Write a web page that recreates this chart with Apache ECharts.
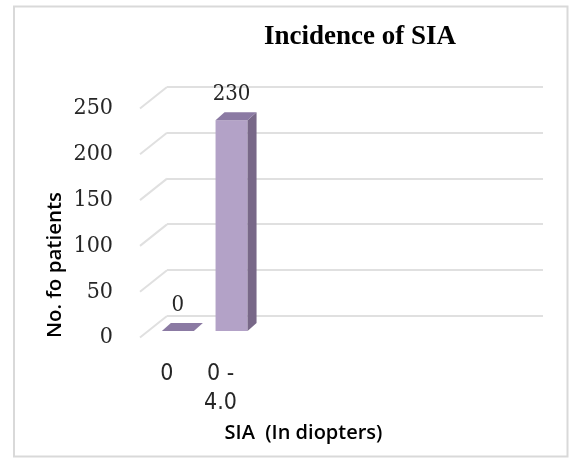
<!DOCTYPE html>
<html>
<head>
<meta charset="utf-8">
<script src="https://cdn.jsdelivr.net/npm/echarts@6/dist/echarts.min.js"></script>
<style>
  html, body { margin: 0; padding: 0; background: #ffffff; }
  #chart { width: 570px; height: 459px; }
</style>
</head>
<body>
<div id="chart"></div>
<script>
// Data
const categories = ['0', '0 -\n4.0'];
const patientCounts = [0, 230];
const yTicks = [0, 50, 100, 150, 200, 250];

const chartTitle = 'Incidence of SIA';
const xTitle = 'SIA  (In diopters)';
const yTitle = 'No. fo patients';

// Pseudo-3D geometry (pixel offsets of the depth direction)
const WALL_DEPTH = [27, -21.5];   // front floor edge -> back wall
const BAR_OFFSET = [11, -6.5];    // bar front plane inside the floor
const BAR_WIDTH = 32;
const BAR_DEPTH = [9, -8];

const FRONT_COLOR = '#b3a2c7';
const SIDE_COLOR = '#786888';
const TOP_COLOR = '#8b7aa3';
const GRID_COLOR = '#e0e0e0';

const serifFont = '"DejaVu Serif Condensed", "Liberation Serif", serif';
const titleFont = '"Liberation Serif", "Times New Roman", serif';
const sansFont = '"Open Sans", "Liberation Sans", sans-serif';
const labelFont = '"DejaVu Sans Condensed", "Liberation Sans", sans-serif';

const chart = echarts.init(document.getElementById('chart'), null, { renderer: 'canvas' });

// Diagonal lines on the left side wall, one per tick value
function renderWallEdge(params, api) {
  const v = api.value(1);
  const y = api.coord([0, v])[1];
  const x0 = params.coordSys.x;
  return {
    type: 'line',
    shape: { x1: x0, y1: y, x2: x0 + WALL_DEPTH[0], y2: y + WALL_DEPTH[1] },
    style: { stroke: GRID_COLOR, lineWidth: 2 }
  };
}

// Extruded column with its value label
function renderBar(params, api) {
  const idx = api.value(0);
  const val = api.value(1);
  const base = api.coord([idx, 0]);
  const top = api.coord([idx, val]);
  const xL = base[0] + BAR_OFFSET[0] - BAR_WIDTH / 2;
  const xR = xL + BAR_WIDTH;
  const yB = base[1] + BAR_OFFSET[1];
  const yT = top[1] + BAR_OFFSET[1];
  const dx = BAR_DEPTH[0], dy = BAR_DEPTH[1];
  return {
    type: 'group',
    children: [
      { type: 'rect', shape: { x: xL, y: yT, width: BAR_WIDTH, height: yB - yT },
        style: { fill: FRONT_COLOR } },
      { type: 'polygon',
        shape: { points: [[xR, yT], [xR + dx, yT + dy], [xR + dx, yB + dy], [xR, yB]] },
        style: { fill: SIDE_COLOR } },
      { type: 'polygon',
        shape: { points: [[xL, yT], [xR, yT], [xR + dx, yT + dy], [xL + dx, yT + dy]] },
        style: { fill: TOP_COLOR } },
      { type: 'text', x: (xL + xR) / 2, y: yT + dy - 18,
        style: { text: String(val), textAlign: 'center', textVerticalAlign: 'middle',
                 font: '22px ' + serifFont, fill: '#262626' } }
    ]
  };
}

const option = {
  backgroundColor: '#ffffff',
  animation: false,
  grid: [
    // front plane (floor front edge)
    { left: 140, width: 107.4, top: 108.5, bottom: 121.5 },
    // back wall
    { left: 167, right: 27, top: 87, bottom: 143.5 }
  ],
  xAxis: [
    {
      type: 'category', gridIndex: 0, data: categories,
      axisLine: { show: false }, axisTick: { show: false },
      axisLabel: {
        margin: 22, lineHeight: 29, color: '#262626',
        fontFamily: labelFont, fontSize: 23
      }
    },
    { type: 'category', gridIndex: 1, data: categories, show: false }
  ],
  yAxis: [
    {
      type: 'value', gridIndex: 0, min: 0, max: 250, interval: 50,
      axisLine: { show: false }, axisTick: { show: false }, splitLine: { show: false },
      axisLabel: { margin: 27, color: '#262626', fontFamily: serifFont, fontSize: 23 }
    },
    {
      type: 'value', gridIndex: 1, min: 0, max: 250, interval: 50,
      axisLine: { show: false }, axisTick: { show: false }, axisLabel: { show: false },
      splitLine: { show: true, lineStyle: { color: GRID_COLOR, width: 2 } }
    }
  ],
  series: [
    {
      type: 'custom', xAxisIndex: 0, yAxisIndex: 0, z: 1,
      data: yTicks.map(v => [0, v]),
      encode: { x: 0, y: 1 },
      renderItem: renderWallEdge,
      silent: true
    },
    {
      type: 'custom', xAxisIndex: 0, yAxisIndex: 0, z: 3,
      data: patientCounts.map((v, i) => [i, v]),
      encode: { x: 0, y: 1 },
      renderItem: renderBar,
      clip: false
    }
  ],
  graphic: [
    { type: 'rect', silent: true, z: 0,
      shape: { x: 14, y: 6.5, width: 553.5, height: 450 },
      style: { fill: 'none', stroke: '#d9d9d9', lineWidth: 2 } },
    { type: 'text', x: 360, y: 37,
      style: { text: chartTitle, textAlign: 'center', textVerticalAlign: 'middle',
               font: 'bold 27px ' + titleFont, fill: '#000000' } },
    { type: 'text', x: 303.5, y: 433,
      style: { text: xTitle, textAlign: 'center', textVerticalAlign: 'middle',
               font: '600 20px ' + sansFont, fill: '#000000' } },
    { type: 'text', x: 55, y: 265, rotation: Math.PI / 2,
      style: { text: yTitle, textAlign: 'center', textVerticalAlign: 'middle',
               font: '600 20.5px ' + sansFont, fill: '#000000' } }
  ]
};

chart.setOption(option);
</script>
</body>
</html>
